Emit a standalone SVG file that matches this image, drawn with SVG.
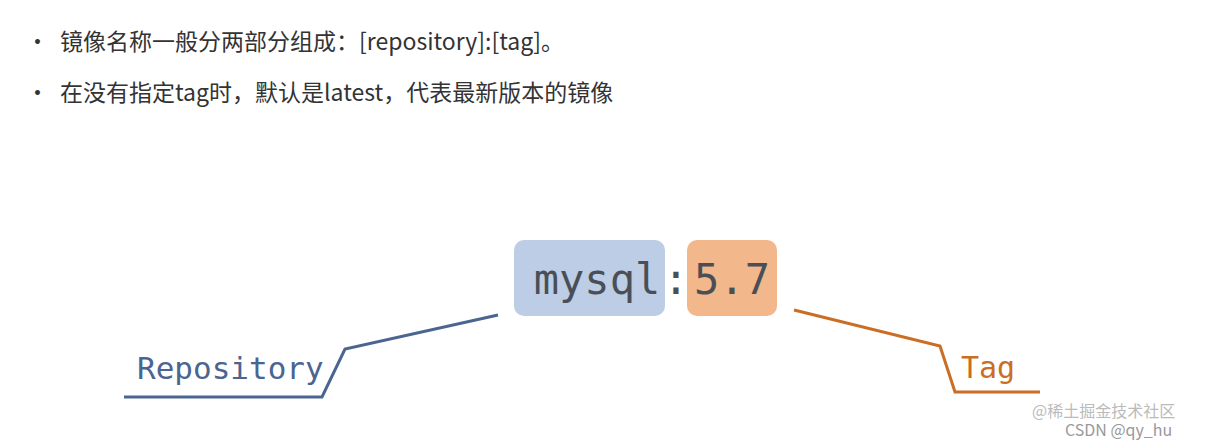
<svg xmlns="http://www.w3.org/2000/svg" width="1205" height="443" viewBox="0 0 1205 443">
<style>
.t{font-family:"Noto Sans CJK SC","Noto Sans",sans-serif;font-size:23px;fill:#333}
.m{font-family:"DejaVu Sans Mono",monospace;fill:#4a4f57}
.w{font-family:"Noto Sans CJK SC",sans-serif;font-size:16px;fill:#bbb}
</style>
<rect width="1205" height="443" fill="#fff"/>
<g id="bullets">
<text class="t" x="26" y="50">•</text><text class="t" x="60" y="50">镜像名称一般分两部分组成：[repository]:[tag]。</text>
<text class="t" x="26" y="101">•</text><text class="t" x="60" y="101">在没有指定tag时，默认是latest，代表最新版本的镜像</text>
</g>
<g id="repo-box"><rect x="514" y="240" width="151" height="76" rx="10" fill="#bccde5"/>
<text class="m" x="597" y="294" font-size="42" text-anchor="middle">mysql</text></g>
<text class="m" x="676" y="294" font-size="42" text-anchor="middle">:</text>
<g id="tag-box"><rect x="687" y="240" width="90" height="76" rx="10" fill="#f2b78b"/>
<text class="m" x="732" y="294" font-size="42" text-anchor="middle">5.7</text></g>
<g id="connectors" fill="none" stroke-width="3">
<polyline points="498,315 345,349 322,397 124,397" stroke="#4a6590"/>
<polyline points="794,310 940,346 955,392 1040,392" stroke="#cc6d24"/>
</g>
<g id="repo-label"><text class="m" x="137" y="379" font-size="31" style="fill:#4a6590">Repository</text></g>
<g id="tag-label"><text class="m" x="961" y="378" font-size="30" style="fill:#cc6d24">Tag</text></g>
<text class="w" x="1032" y="417">@稀土掘金技术社区</text>
<text class="w" x="1065" y="436" style="fill:#999">CSDN @qy_hu</text>
</svg>
